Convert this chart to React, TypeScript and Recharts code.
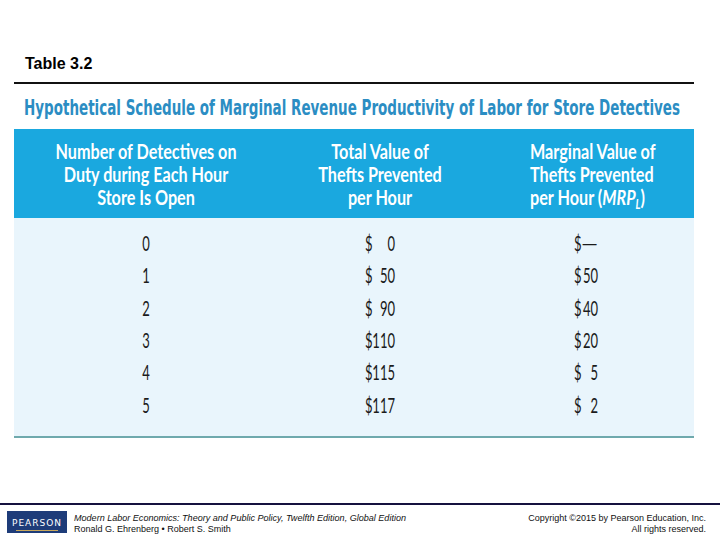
import React from "react";
import { ComposedChart, Scatter, XAxis, YAxis } from "recharts";

const tableLabel = "Table 3.2";
const tableTitle =
  "Hypothetical Schedule of Marginal Revenue Productivity of Labor for Store Detectives";
const columnHeaders: string[][] = [
  ["Number of Detectives on", "Duty during Each Hour", "Store Is Open"],
  ["Total Value of", "Thefts Prevented", "per Hour"],
  ["Marginal Value of", "Thefts Prevented", "per Hour ("],
];
const detectives = [0, 1, 2, 3, 4, 5];
const totalValue = [0, 50, 90, 110, 115, 117];
const marginalValue: (number | null)[] = [null, 50, 40, 20, 5, 2];
const footerLeft = [
  "Modern Labor Economics: Theory and Public Policy, Twelfth Edition, Global Edition",
  "Ronald G. Ehrenberg • Robert S. Smith",
];
const footerRight = ["Copyright ©2015 by Pearson Education, Inc.", "All rights reserved."];

const col1Data = detectives.map((d, i) => ({ col: 0, row: i, value: d }));
const col2Data = totalValue.map((v, i) => ({ col: 1, row: i, value: v }));
const col3Data = marginalValue.map((v, i) => ({ col: 2, row: i, value: v }));

const NARROW = "'DejaVu Sans Condensed', 'DejaVu Sans', sans-serif";
const BODY_FONT = "Lato, 'DejaVu Sans', sans-serif";
const HEADER_FONT = "Lato, 'DejaVu Sans', sans-serif";
const BODY_COLOR = "#1b1b1b";
const BODY_SIZE = 21;
const BODY_SX = 0.62;
const HEADER_SX = 0.79;

const SText = (props: any) => {
  const { x, y, sx, anchor, children, ...rest } = props;
  return (
    <text transform={`translate(${x} ${y}) scale(${sx} 1)`} x={0} y={0} textAnchor={anchor} {...rest}>
      {children}
    </text>
  );
};

const PlainCell = (props: any) => {
  const { cx, cy, payload } = props;
  return (
    <SText x={cx} y={cy + 7} sx={BODY_SX} anchor="middle" fontFamily={BODY_FONT} fontSize={BODY_SIZE} fill={BODY_COLOR}>
      {String(payload.value)}
    </SText>
  );
};

const makeMoneyCell = (dollarDx: number, valueDx: number) => (props: any) => {
  const { cx, cy, payload } = props;
  const v = payload.value;
  const isDash = v === null;
  return (
    <g>
      <SText x={cx + dollarDx} y={cy + 7} sx={BODY_SX} anchor="start" fontFamily={BODY_FONT} fontSize={BODY_SIZE} fill={BODY_COLOR}>
        $
      </SText>
      <SText
        x={cx + valueDx}
        y={cy + 7}
        sx={isDash ? 1 : BODY_SX}
        anchor="end"
        fontFamily={BODY_FONT}
        fontSize={BODY_SIZE}
        fill={BODY_COLOR}
      >
        {isDash ? "—" : String(v)}
      </SText>
    </g>
  );
};

const TotalCell = makeMoneyCell(-1, 29);
const MarginalCell = makeMoneyCell(-12, 12);

const HeaderTick = (props: any) => {
  const { x, y, payload } = props;
  const idx = Number(payload.value);
  const lines = columnHeaders[idx];
  if (!lines) return null;
  const anchor = idx === 2 ? "start" : "middle";
  const tx = idx === 0 ? x : idx === 1 ? x + 14 : x - 56;
  const offsets = [-85, -62, -39];
  return (
    <g>
      {lines.map((line, i) => (
        <SText
          key={i}
          x={tx}
          y={y + offsets[i]}
          sx={HEADER_SX}
          anchor={anchor}
          fontFamily={HEADER_FONT}
          fontWeight="bold"
          fontSize={20.5}
          fill="#ffffff"
        >
          {line}
          {idx === 2 && i === 2 ? (
            <>
              <tspan fontStyle="italic">MRP</tspan>
              <tspan fontStyle="italic" fontSize={13} dy={4}>L</tspan>
              <tspan dy={-4}>)</tspan>
            </>
          ) : null}
        </SText>
      ))}
    </g>
  );
};

const FOOT = "'Liberation Sans', Arial, sans-serif";

const Backdrop = () => (
  <svg width={720} height={540} style={{ position: "absolute", left: 0, top: 0 }}>
    <rect x={0} y={0} width={720} height={540} fill="#ffffff" />
    <text x={25} y={69} fontFamily={FOOT} fontWeight="bold" fontSize={16} fill="#000">
      {tableLabel}
    </text>
    <rect x={14} y={82} width={680} height={2} fill="#111111" />
    <text
      x={24}
      y={115}
      fontFamily={NARROW}
      fontWeight="bold"
      fontSize={22}
      fill="#2b8dc3"
      textLength={656}
      lengthAdjust="spacingAndGlyphs"
    >
      {tableTitle}
    </text>
    <rect x={14} y={129} width={680} height={89} fill="#1aa8df" />
    <rect x={14} y={218} width={680} height={219} fill="#e9f5fc" />
    <rect x={14} y={436} width={680} height={2} fill="#6fa9ad" />
    <rect x={0} y={503} width={720} height={2} fill="#15113f" />
    <rect x={7} y={511} width={60} height={22} fill="#1e3c79" />
    <text x={37} y={526} textAnchor="middle" fontFamily="'DejaVu Sans', sans-serif" fontSize={9} letterSpacing={1} fill="#ffffff">
      PEARSON
    </text>
    <rect x={16} y={530} width={42} height={1} fill="#c9a85c" />
    <text x={74} y={521} fontFamily={FOOT} fontStyle="italic" fontSize={8.5} fill="#111" textLength={332} lengthAdjust="spacingAndGlyphs">
      {footerLeft[0]}
    </text>
    <text x={74} y={532} fontFamily={FOOT} fontSize={9} fill="#111">
      {footerLeft[1]}
    </text>
    <text x={706} y={521} textAnchor="end" fontFamily={FOOT} fontSize={9} fill="#111">
      {footerRight[0]}
    </text>
    <text x={706} y={532} textAnchor="end" fontFamily={FOOT} fontSize={9} fill="#111">
      {footerRight[1]}
    </text>
  </svg>
);

export default function App() {
  return (
    <div style={{ position: "absolute", left: 0, top: 0, width: 720, height: 540 }}>
      <Backdrop />
      <div style={{ position: "absolute", left: 0, top: 0 }}>
        <ComposedChart
          width={720}
          height={540}
          margin={{ top: 214, right: 134, bottom: 134.5, left: 146 }}
        >
          <XAxis
            xAxisId={0}
            type="number"
            dataKey="col"
            orientation="top"
            domain={[0, 2]}
            ticks={[0, 1, 2]}
            height={30}
            axisLine={false}
            tickLine={false}
            tickSize={0}
            tickMargin={0}
            interval={0}
            tick={<HeaderTick />}
          />
          <YAxis yAxisId={0} type="number" dataKey="row" domain={[0, 5]} reversed hide />
          <Scatter data={col1Data} shape={<PlainCell />} isAnimationActive={false} />
          <Scatter data={col2Data} shape={<TotalCell />} isAnimationActive={false} />
          <Scatter data={col3Data} shape={<MarginalCell />} isAnimationActive={false} />
        </ComposedChart>
      </div>
    </div>
  );
}
